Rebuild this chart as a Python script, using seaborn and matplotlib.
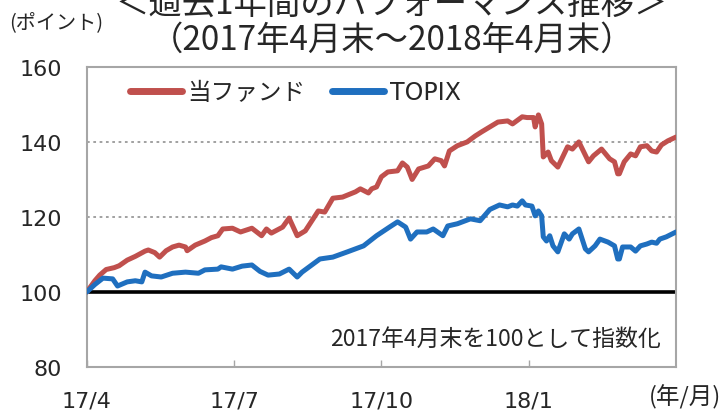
import pandas as pd
import matplotlib
matplotlib.use("Agg")
import matplotlib.pyplot as plt
import seaborn as sns

# 2017年4月末からの経過日数と指数値（2017年4月末=100）
fund_days = [0, 5, 8, 12, 17, 20, 25, 30, 36, 38, 42, 45, 49, 53, 57, 61, 62, 67, 73, 77,
             81, 84, 90, 95, 102, 108, 111, 114, 121, 125, 130, 135, 143, 147, 152, 158, 166, 169, 174, 176,
             179, 182, 186, 192, 195, 198, 201, 205, 211, 215, 219, 221, 224, 229, 235, 240, 244, 249, 254, 260,
             263, 269, 272, 276, 277, 279, 281, 282, 285, 287, 291, 297, 300, 304, 310, 313, 318, 323, 326, 328,
             329, 332, 336, 339, 342, 346, 349, 352, 355, 359, 364]
fund_values = [100, 103, 104.5, 106, 106.5, 107, 108.5, 109.5, 110.9, 111.2, 110.5, 109.3, 111, 112, 112.5, 112, 111, 112.5, 113.6, 114.5,
               115, 116.8, 117, 116, 117, 115, 116.8, 115.7, 117.3, 119.7, 115, 116.3, 121.6, 121.3, 125, 125.3, 126.7, 127.5, 126.4, 127.5,
               128, 130.7, 132, 132.3, 134.4, 133.3, 130, 132.8, 133.6, 135.5, 135, 133.6, 137.6, 139, 140, 141.6, 142.7, 144, 145.3, 145.6,
               144.8, 146.7, 146.5, 146.5, 144, 147.2, 144.8, 136, 137.3, 135, 133.3, 138.7, 138.1, 140, 134.7, 136.3, 138.1, 135.5, 134.7, 131.5,
               131.5, 134.7, 136.8, 136.3, 138.7, 139, 137.6, 137.3, 139.2, 140.3, 141.3]

topix_days = [0, 5, 10, 16, 19, 25, 30, 34, 36, 40, 46, 53, 61, 69, 73, 81, 83, 90, 96, 102,
              107, 112, 119, 125, 130, 133, 144, 152, 161, 171, 179, 187, 192, 197, 200, 204, 210, 214, 220, 223,
              229, 237, 243, 249, 255, 260, 263, 266, 269, 271, 275, 277, 279, 281, 282, 284, 286, 288, 291, 295,
              298, 300, 304, 308, 310, 314, 317, 322, 326, 328, 329, 331, 336, 339, 342, 346, 349, 352, 354, 358, 364]
topix_values = [100, 102, 103.7, 103.5, 101.6, 102.7, 103, 102.7, 105.3, 104.3, 104, 105, 105.3, 105, 105.9, 106.1, 106.7, 106.1, 106.9, 107.2,
                105.5, 104.5, 104.8, 106.1, 104, 105.3, 108.8, 109.3, 110.7, 112.3, 115, 117.3, 118.7, 117.3, 114.1, 116, 116, 116.8, 115, 117.6,
                118.2, 119.5, 119, 122, 123.2, 122.7, 123.2, 122.9, 124.3, 123.2, 122.9, 120.3, 121.6, 120.3, 114.7, 113.6, 115, 112.3, 110.7, 115.5,
                114.1, 115.5, 116.8, 111.5, 110.7, 112.3, 114.1, 113.3, 112.3, 108.8, 108.8, 112, 112, 110.9, 112.3, 112.8, 113.3, 113, 114.1, 114.7, 116]

series_names = ["当ファンド", "TOPIX"]
series_colors = ["#C0504D", "#1F6FBF"]
x_tick_days = [0, 91, 182, 273]
x_tick_labels = ["17/4", "17/7", "17/10", "18/1"]
y_ticks = [80, 100, 120, 140, 160]

sns.set_theme(style="white")
plt.rcParams["font.family"] = ["DejaVu Sans", "Noto Sans CJK JP"]
jp = ["Noto Sans CJK JP", "DejaVu Sans"]

df = pd.concat([
    pd.DataFrame({"day": fund_days, "value": fund_values, "series": series_names[0]}),
    pd.DataFrame({"day": topix_days, "value": topix_values, "series": series_names[1]}),
])

fig = plt.figure(figsize=(7.23, 4.14), dpi=100)
ax = fig.add_axes([0.120, 0.111, 0.815, 0.725])

ax.axhline(100, color="black", lw=2.6, zorder=1.5)
sns.lineplot(data=df, x="day", y="value", hue="series", palette=series_colors,
             lw=3.6, ax=ax, zorder=3, legend=False, solid_capstyle="round",
             solid_joinstyle="round")

ax.set_xlim(0, 364)
ax.set_ylim(80, 160)
ax.set_yticks(y_ticks)
ax.set_xticks(x_tick_days)
ax.set_xticklabels(x_tick_labels)
ax.set_xlabel("")
ax.set_ylabel("")
ax.tick_params(axis="x", direction="in", length=5, width=1, color="#A6A6A6",
               pad=17, labelsize=16, bottom=True)
ax.tick_params(axis="y", length=0, pad=18, labelsize=16)
ax.yaxis.grid(True, ls=(0, (1.5, 2)), color="#9A9A9A", lw=1.3)
ax.set_axisbelow(True)
for side in ["left", "right", "top", "bottom"]:
    ax.spines[side].set_color("#A6A6A6")
    ax.spines[side].set_linewidth(1.5)

handles = [plt.Line2D([], [], color=c, lw=5, solid_capstyle="round") for c in series_colors]
ax.legend(handles, series_names, loc="center left", bbox_to_anchor=(0.073, 0.917),
          ncol=2, frameon=False, fontsize=17, handlelength=2.2, handletextpad=0.25,
          columnspacing=1.1, borderpad=0, borderaxespad=0)

ax.text(0.975, 0.095, "2017年4月末を100として指数化", transform=ax.transAxes,
        ha="right", va="center", fontsize=16.5, family=jp)

fig.text(0.542, 0.990, "＜過去1年間のパフォーマンス推移＞", ha="center", va="center",
         fontsize=24, family=jp)
fig.text(0.542, 0.903, "（2017年4月末～2018年4月末）", ha="center", va="center",
         fontsize=24, family=jp)
fig.text(0.012, 0.945, "(ポイント)", ha="left", va="center", fontsize=14.5, family=jp)
fig.text(0.997, 0.040, "(年/月)", ha="right", va="center", fontsize=17, family=jp)

fig.savefig("out.png", dpi=100)
